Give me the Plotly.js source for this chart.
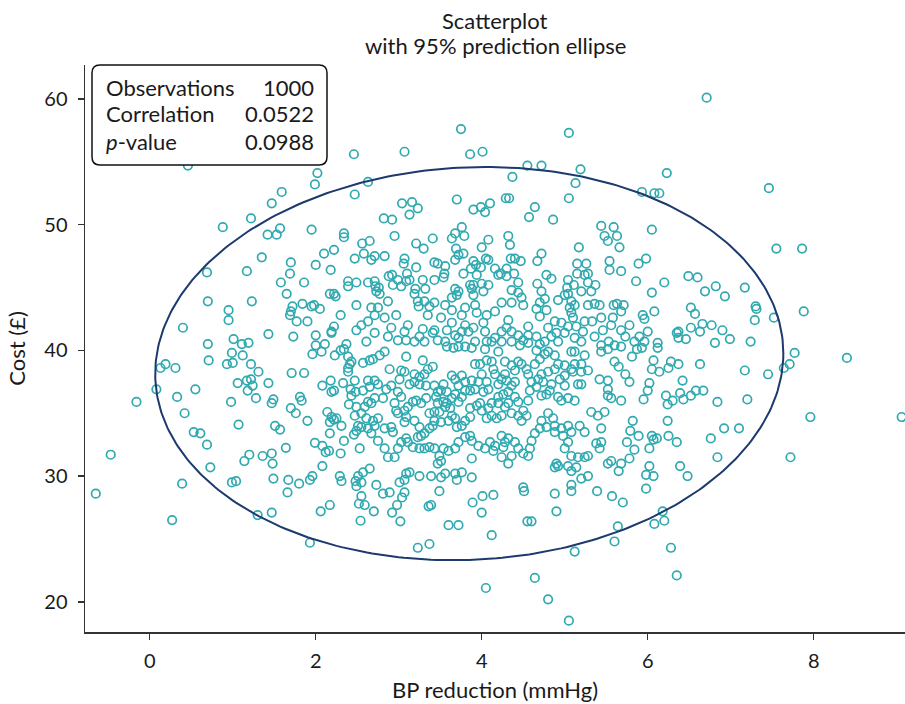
<!DOCTYPE html>
<html>
<head>
<meta charset="utf-8">
<script src="https://cdn.plot.ly/plotly-3.0.1.min.js"></script>
<style>html,body{margin:0;padding:0;background:#fff;}#chart{width:905px;height:704px;}</style>
</head>
<body>
<div id="chart"></div>
<script>
// BP reduction (mmHg) for each observation
const bpReduction = [
0.46,2.46,2.02,1.99,1.59,1.47,2.47,3.75,3.07,3.86,
4.01,5.05,4.55,4.72,5.19,4.37,5.13,5.05,2.63,3.04,
3.16,3.70,4.10,4.29,4.33,4.64,6.71,6.23,7.46,5.93,
6.08,6.14,1.22,0.88,1.42,1.57,1.53,1.95,2.34,2.34,
2.22,2.10,1.35,1.70,1.69,2.00,2.18,0.69,1.17,1.58,
1.86,2.39,2.39,2.49,2.47,1.65,2.17,2.22,2.24,0.70,
1.23,0.95,0.95,1.72,1.70,1.69,1.84,1.98,1.95,2.05,
1.77,1.90,2.30,2.49,0.40,1.43,1.73,2.22,2.19,2.19,
2.00,2.49,0.70,1.01,1.11,1.19,2.00,2.11,2.37,2.34,
2.30,6.05,7.55,7.86,5.89,5.98,5.86,6.20,6.49,6.60,
6.05,6.69,6.82,6.93,7.17,6.52,6.57,7.30,7.31,7.29,
7.52,7.88,6.08,5.94,5.96,5.78,6.66,6.77,6.52,6.63,
6.90,6.35,6.37,6.37,6.46,6.99,6.81,7.24,6.00,5.90,
5.84,5.96,6.12,6.12,5.93,5.87,7.77,8.40,7.17,7.45,
7.64,7.71,6.63,6.07,6.28,6.37,6.05,6.14,6.25,6.42,
6.02,6.00,5.78,6.22,6.30,6.24,6.39,6.43,6.52,6.58,
6.67,5.95,6.84,7.20,7.96,9.06,5.82,6.24,6.92,7.10,
6.76,5.89,6.05,6.11,6.07,6.25,6.35,5.84,6.02,5.78,
6.84,7.72,6.02,5.98,6.07,6.39,6.48,5.98,6.18,6.08,
6.20,6.28,6.35,2.55,2.52,2.59,2.70,2.54,2.81,2.89,
3.07,3.04,2.98,2.92,3.02,3.36,3.39,3.49,3.60,3.72,
3.23,3.37,3.89,4.01,4.14,4.00,4.12,4.51,4.55,4.60,
4.88,4.90,5.08,5.39,5.57,5.70,5.64,5.60,5.12,4.64,
4.05,4.80,5.05,-0.65,0.27,1.30,1.47,1.66,1.93,2.06,
2.17,0.13,0.19,0.31,0.71,0.08,-0.16,0.55,0.33,0.42,
0.53,0.61,0.69,-0.47,0.73,0.39,0.99,1.04,0.98,1.07,
0.93,1.00,0.99,1.12,1.22,1.31,1.06,1.17,1.22,1.24,
1.18,1.28,1.43,1.47,1.49,1.71,1.86,1.70,1.76,1.81,
1.83,1.90,1.51,1.57,1.64,1.20,1.14,1.36,1.47,1.48,
1.49,1.67,1.80,1.93,1.96,1.99,2.08,2.12,2.16,2.30,
2.08,2.29,2.31,2.48,2.49,2.17,2.34,2.46,2.49,2.51,
2.14,2.19,2.22,2.25,2.17,2.31,2.08,2.18,2.19,2.22,
2.33,2.42,2.43,2.40,2.48,1.96,2.07,2.23,2.39,2.41,
2.39,2.39,2.43,3.23,3.13,3.90,3.99,4.04,4.57,4.86,
2.82,2.92,2.95,5.44,5.59,5.48,5.52,5.63,5.66,5.17,
3.76,3.68,3.64,3.79,3.69,3.72,3.78,3.41,3.21,3.30,
4.08,4.00,4.32,4.34,2.56,2.65,2.58,2.67,2.71,2.83,
3.07,3.06,3.21,3.10,3.43,3.47,3.56,3.68,3.90,3.93,
3.99,3.87,4.05,4.08,4.16,4.23,4.20,4.30,4.35,4.40,
4.47,4.30,4.39,4.72,4.67,4.78,4.84,5.15,5.26,5.54,
5.54,5.68,5.04,5.15,5.24,5.28,5.28,5.37,5.11,5.03,
5.00,4.67,4.72,4.70,4.76,4.78,4.66,4.70,5.04,5.20,
5.32,5.08,5.12,5.06,4.92,5.28,5.36,5.42,5.59,5.63,
5.68,5.71,5.58,5.44,5.33,5.24,5.08,5.10,4.96,4.88,
5.04,5.14,5.00,4.90,4.80,4.84,4.92,4.76,4.66,4.56,
4.70,5.22,5.12,5.20,5.36,5.46,5.56,5.68,5.73,5.53,
5.60,5.44,5.68,5.12,4.80,2.63,2.71,2.72,2.76,2.73,
2.77,2.88,2.92,2.93,3.03,2.99,3.09,3.13,3.20,3.32,
3.29,3.43,3.54,3.55,3.78,3.94,4.00,3.86,3.90,3.88,
3.72,3.68,3.64,3.70,3.90,4.02,4.08,4.36,4.44,4.44,
4.48,4.50,4.36,4.24,4.16,4.06,3.94,3.92,3.80,3.76,
3.64,3.56,3.43,3.31,3.19,3.23,3.24,3.37,3.35,3.51,
3.43,3.29,3.25,3.19,3.07,3.11,2.97,2.87,2.75,2.71,
2.63,2.55,2.61,2.83,2.91,2.87,2.71,2.67,2.99,3.09,
3.31,3.41,3.47,3.58,3.64,3.68,3.72,3.76,3.80,3.84,
3.90,4.02,4.04,4.06,4.16,4.24,4.32,4.30,4.36,4.44,
4.50,4.36,4.24,3.92,3.56,3.58,3.66,3.72,3.80,3.88,
4.04,4.12,4.46,4.56,4.56,2.57,2.65,2.69,2.77,2.83,
3.09,3.29,3.35,3.41,3.31,3.25,3.19,3.07,3.01,3.03,
2.89,2.91,2.85,2.75,2.71,2.63,2.65,2.57,2.47,2.99,
3.03,3.13,3.19,3.25,3.33,3.43,3.47,3.45,3.54,3.51,
3.58,3.64,3.68,3.76,3.80,3.72,3.88,3.96,4.00,4.06,
4.08,4.02,3.92,3.86,3.80,3.68,3.64,3.58,3.54,3.47,
3.72,3.76,3.92,3.98,4.06,4.12,4.20,4.28,4.36,4.40,
4.44,4.48,4.54,4.56,4.40,4.36,4.30,4.24,4.20,4.16,
4.14,4.28,4.58,4.60,4.68,4.74,4.66,4.72,4.78,4.82,
4.84,4.72,4.80,4.88,4.92,5.00,5.08,5.12,5.20,5.28,
5.20,5.10,5.00,4.94,5.00,4.92,4.96,5.04,5.12,5.20,
5.16,5.24,5.08,4.88,4.76,4.70,4.66,4.64,5.42,5.52,
5.52,5.52,5.56,5.68,5.73,5.60,5.65,5.44,5.52,5.81,
5.79,5.75,5.68,5.56,5.65,5.52,5.42,5.44,5.40,5.48,
5.32,5.44,5.38,5.28,5.24,5.16,5.08,5.04,4.92,4.88,
4.90,5.00,5.04,4.98,4.88,4.96,5.08,5.24,5.18,5.04,
4.88,4.86,4.80,4.72,4.78,4.70,4.64,4.60,4.58,4.56,
4.50,4.44,4.40,4.32,4.28,4.24,4.26,4.36,4.32,4.24,
4.14,4.16,4.10,4.04,3.96,3.88,3.86,3.80,3.72,3.68,
3.60,3.54,3.49,3.51,3.47,3.43,3.37,3.31,3.25,3.17,
3.11,3.09,3.03,2.99,2.95,2.87,2.83,2.75,2.67,2.63,
2.55,2.53,2.65,2.57,2.51,2.55,2.73,3.01,3.07,3.09,
3.13,3.25,3.39,3.51,3.56,3.68,3.70,3.76,3.88,3.88,
4.50,5.08,5.20,5.28,5.08,5.14,2.69,2.75,2.71,2.83,
2.91,2.93,3.07,3.09,3.19,3.25,3.31,3.27,3.23,3.37,
3.43,3.41,3.51,3.60,3.64,3.68,3.70,3.76,3.80,3.86,
3.86,3.94,3.98,4.00,4.08,4.12,4.20,4.28,4.32,4.24,
4.18,4.12,4.06,4.36,4.44,4.48,4.50,4.54,4.56,4.44,
4.40,4.32,4.26,4.20,2.63,2.59,2.67,2.71,2.81,2.95,
2.97,2.99,3.07,3.11,3.17,3.21,3.27,3.33,3.37,3.43,
3.49,3.56,3.62,2.55,2.61,2.47,2.49
];

// Cost (£) for each observation
const cost = [
54.7,55.6,54.1,53.2,52.6,51.7,52.4,57.6,55.8,55.6,
55.8,57.3,54.7,54.7,54.4,53.8,53.3,52.1,53.4,51.7,
51.8,52.0,51.7,52.1,52.1,51.4,60.1,54.1,52.9,52.6,
52.5,52.5,50.5,49.8,49.2,49.7,49.2,49.6,49.3,49.0,
48.0,47.7,47.4,47.0,46.1,46.8,46.4,46.2,46.3,45.4,
45.4,45.5,45.1,45.4,47.3,44.5,44.5,44.5,44.3,43.9,
43.9,43.2,42.4,43.5,43.1,42.8,43.7,43.6,43.5,43.3,
42.3,42.3,42.8,43.6,41.8,41.3,41.1,41.9,41.5,41.4,
41.2,41.6,40.5,40.9,40.5,40.6,40.4,40.5,40.5,40.1,
40.0,49.6,48.1,48.1,46.9,47.3,45.5,45.4,45.9,45.8,
44.6,44.7,45.1,44.3,45.0,43.4,42.9,43.5,43.3,42.4,
42.6,43.1,43.1,42.8,42.5,42.0,42.1,42.0,41.8,41.5,
41.6,41.4,41.5,41.0,40.9,40.9,40.6,40.7,41.5,41.1,
40.7,40.7,40.6,40.2,40.2,40.1,39.8,39.4,38.4,38.1,
38.6,38.9,38.9,39.2,39.1,38.9,38.5,38.3,38.6,37.6,
37.4,36.8,37.5,36.4,36.0,35.7,36.6,36.1,36.4,36.8,
36.8,36.1,35.9,36.1,34.7,34.7,34.4,34.4,33.8,33.8,
33.0,33.2,33.2,33.0,32.9,33.2,32.7,32.1,32.2,31.4,
31.5,31.5,30.8,30.1,30.0,30.8,30.0,29.0,27.2,26.2,
26.45,24.3,22.1,28.4,27.8,27.7,27.2,26.45,28.6,28.7,
28.7,28.3,27.7,27.1,26.4,27.6,27.7,28.8,26.1,26.1,
24.3,24.6,27.9,28.4,28.5,27.1,25.3,28.8,26.4,26.4,
28.6,27.2,28.8,28.8,28.4,27.9,26.0,24.8,24.0,21.9,
21.1,20.2,18.5,28.6,26.5,26.9,27.1,28.7,24.7,27.2,
27.7,38.6,38.9,38.6,39.2,36.9,35.9,36.9,36.3,35.0,
33.5,33.4,32.5,31.7,30.7,29.4,29.5,29.6,35.9,34.1,
38.9,39.0,39.8,39.6,38.9,38.3,37.4,37.6,37.7,37.2,
36.8,36.2,37.4,35.8,36.1,38.2,38.2,35.4,35.0,36.3,
36.0,34.4,34.0,33.7,32.25,31.7,31.2,31.6,31.8,31.0,
29.8,29.7,29.4,29.7,30.0,32.65,32.4,31.9,32.0,31.8,
30.8,30.0,29.6,29.6,29.2,33.4,32.8,33.3,33.6,34.0,
35.1,34.7,34.5,34.6,34.3,34.0,37.2,37.6,36.7,36.8,
37.4,36.9,36.4,35.7,36.7,39.7,39.9,39.6,39.5,38.9,
38.6,38.3,39.1,51.3,50.8,51.2,51.4,51.0,50.6,50.4,
50.5,50.4,49.1,49.9,49.8,49.1,48.7,49.1,48.2,48.2,
49.8,49.3,48.9,49.1,48.1,47.6,47.7,48.9,48.5,48.1,
48.8,48.2,49.1,48.4,48.5,48.7,47.7,47.2,47.5,47.5,
47.3,46.9,46.6,46.1,47.0,46.9,46.7,47.2,47.1,46.8,
46.6,46.5,47.3,47.2,46.5,46.1,46.0,46.5,47.3,47.3,
47.1,45.9,46.1,47.7,47.1,46.0,45.7,46.9,46.9,47.1,
46.4,46.3,45.6,46.1,46.0,46.1,45.4,45.2,45.2,45.0,
44.4,45.3,44.7,43.8,44.1,43.2,43.3,42.7,44.5,44.7,
44.7,43.9,43.6,43.4,44.0,43.6,43.7,43.6,43.6,43.7,
43.1,43.6,42.6,42.6,42.3,42.3,43.0,42.6,42.2,42.3,
41.9,41.9,41.4,41.4,41.8,41.1,40.7,40.7,41.1,40.6,
40.5,41.5,41.0,40.7,41.1,41.6,42.0,41.6,41.1,40.7,
40.4,40.4,40.3,39.9,39.9,45.4,45.5,45.1,45.0,44.7,
44.5,45.9,46.0,45.2,45.1,45.6,45.5,45.6,44.9,44.9,
45.6,45.6,45.8,46.1,46.1,46.0,45.3,45.2,45.2,44.9,
44.7,44.9,44.2,44.4,44.4,44.7,45.2,44.8,45.4,44.6,
44.2,43.6,43.8,43.8,43.1,42.8,43.0,43.6,43.4,42.8,
43.2,43.6,43.8,43.9,44.5,43.9,43.5,43.5,42.8,42.6,
41.6,41.7,41.1,40.7,41.5,42.0,42.8,43.9,43.4,42.8,
42.3,42.0,40.7,42.6,41.8,41.1,41.4,43.4,40.8,40.8,
40.7,41.4,40.8,41.6,42.2,41.2,41.0,41.5,42.0,41.5,
41.8,42.2,41.5,40.7,41.0,41.5,42.4,41.8,41.5,41.2,
40.8,40.7,40.7,40.7,40.7,40.3,40.2,40.3,40.3,40.2,
40.1,40.7,40.4,41.2,41.9,39.0,39.2,39.3,39.6,39.9,
39.5,39.2,38.5,38.7,38.1,37.9,38.1,38.3,37.7,38.4,
38.5,37.2,36.9,37.3,37.6,37.6,37.1,36.8,37.6,36.7,
36.3,37.3,37.5,37.3,37.2,37.2,36.7,36.3,37.3,36.8,
36.7,38.0,37.7,38.0,37.5,37.2,37.6,37.5,38.1,37.5,
36.9,36.7,36.9,36.8,36.8,36.5,36.2,35.8,35.9,35.8,
35.9,36.3,38.9,38.9,39.2,39.1,39.9,39.1,38.8,38.4,
39.1,38.9,38.5,38.1,37.5,37.2,37.6,37.7,37.3,38.1,
38.5,38.1,36.8,37.5,37.7,37.5,37.1,36.4,36.5,36.8,
37.3,38.1,38.3,38.5,38.9,38.8,38.5,38.9,38.9,38.4,
38.3,38.3,38.0,37.7,37.2,36.3,36.0,36.2,36.0,37.3,
37.3,39.6,39.9,39.6,39.7,39.3,40.0,38.9,37.7,37.6,
36.9,36.4,36.2,36.0,38.1,39.1,38.7,39.9,40.1,39.5,
33.6,32.7,31.0,31.2,30.4,31.0,32.2,33.8,34.8,35.1,
35.1,32.7,32.6,31.6,31.5,31.5,31.6,30.8,30.8,30.7,
31.0,32.2,32.7,33.2,33.5,33.8,33.5,33.5,34.0,34.0,
34.0,34.6,35.0,34.4,33.9,33.8,33.4,32.8,32.2,31.6,
31.8,32.2,32.7,33.0,32.7,33.2,32.3,31.6,31.0,31.5,
32.0,32.4,32.7,32.2,32.4,32.8,33.2,33.1,32.7,32.2,
32.0,32.2,31.6,31.2,31.0,32.2,32.3,32.2,32.2,32.3,
32.7,33.0,32.7,32.2,31.5,31.5,32.2,32.8,33.4,33.8,
33.9,32.2,30.6,30.3,30.0,29.5,29.3,29.5,29.7,30.2,
30.3,30.0,30.0,29.9,30.2,30.2,29.7,30.3,29.9,31.4,
29.1,29.3,29.8,30.0,30.4,30.7,34.4,34.6,34.0,33.8,
33.9,33.5,34.3,34.7,34.4,33.9,33.4,33.2,33.1,33.8,
34.4,34.0,34.3,34.4,34.8,34.6,33.9,34.0,34.4,34.7,
35.4,35.6,35.8,35.2,35.4,35.8,35.8,35.5,35.8,34.8,
34.6,34.8,34.6,35.0,34.8,34.4,35.2,34.8,36.0,35.9,
36.3,36.7,36.5,36.3,35.9,35.5,35.8,36.2,36.2,35.8,
35.2,35.0,35.2,35.5,35.9,36.0,35.8,36.2,35.0,35.1,
35.1,35.5,35.4,35.0,34.6,34.8,35.5
];

// Summary statistics shown in the box
const statLabels = ['Observations', 'Correlation', '<i>p</i>-value'];
const statValues = ['1000', '0.0522', '0.0988'];

// Chart title lines
const titleLines = ['Scatterplot', 'with 95% prediction ellipse'];

// Bivariate normal parameters for the 95% prediction ellipse
const meanBP = 3.85, meanCost = 38.95;
const sdBP = 1.546, sdCost = 6.39;
const correlation = 0.0522;
const chi2_95 = 5.991;

const xTicks = [0, 2, 4, 6, 8];
const yTicks = [20, 30, 40, 50, 60];

if (bpReduction.length !== cost.length) console.error('length mismatch', bpReduction.length, cost.length);

// ellipse
const ex = [], ey = [];
const c = Math.sqrt(chi2_95);
for (let i = 0; i <= 360; i++) {
  const t = i * Math.PI / 180;
  ex.push(meanBP + c * sdBP * Math.cos(t));
  ey.push(meanCost + c * sdCost * (correlation * Math.cos(t) + Math.sqrt(1 - correlation * correlation) * Math.sin(t)));
}

const teal = '#30a9b0';
const navy = '#1c3a6e';
const txt = '#1a1a1a';

const traces = [
  {
    type: 'scatter', mode: 'markers', x: bpReduction, y: cost,
    marker: { symbol: 'circle-open', size: 8.5, color: teal, line: { width: 1.7, color: teal } },
    hoverinfo: 'x+y'
  },
  {
    type: 'scatter', mode: 'lines', x: ex, y: ey,
    line: { color: navy, width: 2 }, hoverinfo: 'skip'
  }
];

const L = 85, R = 905, T = 65, B = 632;
const pw = R - L, ph = B - T;
const px = v => (v - L) / pw;
const py = v => 1 - (v - T) / ph;

const bx0 = px(92), bx1 = px(327), by1 = py(65), by0 = py(165);
const rx = 8 / pw, ry = 8 / ph;
const boxPath = `M ${bx0 + rx},${by1} L ${bx1 - rx},${by1} Q ${bx1},${by1} ${bx1},${by1 - ry} L ${bx1},${by0 + ry} Q ${bx1},${by0} ${bx1 - rx},${by0} L ${bx0 + rx},${by0} Q ${bx0},${by0} ${bx0},${by0 + ry} L ${bx0},${by1 - ry} Q ${bx0},${by1} ${bx0 + rx},${by1} Z`;

const rowsY = [87, 114, 141];
const annotations = [];
statLabels.forEach((lab, i) => {
  annotations.push({ xref: 'paper', yref: 'paper', x: px(104), y: py(rowsY[i]), xanchor: 'left', yanchor: 'middle', text: lab, showarrow: false, font: { size: 22, color: txt } });
  annotations.push({ xref: 'paper', yref: 'paper', x: px(316), y: py(rowsY[i]), xanchor: 'right', yanchor: 'middle', text: statValues[i], showarrow: false, font: { size: 22, color: txt } });
});
const titleY = [20, 46];
titleLines.forEach((t, i) => {
  annotations.push({ xref: 'paper', yref: 'paper', x: 0.5, y: py(titleY[i]), xanchor: 'center', yanchor: 'middle', text: t, showarrow: false, font: { size: 22, color: txt } });
});

const layout = {
  width: 905, height: 704,
  margin: { l: L, r: 905 - R, t: T, b: 704 - B },
  paper_bgcolor: '#ffffff', plot_bgcolor: '#ffffff',
  font: { family: 'Lato, "Open Sans", sans-serif', color: txt, size: 20 },
  showlegend: false,
  xaxis: {
    range: [-0.78, 9.1], tickvals: xTicks, ticktext: xTicks.map(String),
    showline: true, linecolor: '#333', linewidth: 1.5, mirror: false,
    ticks: 'outside', ticklen: 6, tickwidth: 1.5, tickcolor: '#333',
    ticklabelstandoff: 4,
    showgrid: false, zeroline: false, automargin: false,
    tickfont: { size: 20, color: txt },
    title: { text: 'BP reduction (mmHg)', font: { size: 22, color: txt }, standoff: 12 }
  },
  yaxis: {
    range: [17.6, 62.7], tickvals: yTicks, ticktext: yTicks.map(String),
    showline: true, linecolor: '#333', linewidth: 1.5,
    ticks: 'outside', ticklen: 6, tickwidth: 1.5, tickcolor: '#333',
    ticklabelstandoff: 6,
    showgrid: false, zeroline: false, automargin: false,
    tickfont: { size: 20, color: txt },
    title: { text: 'Cost (£)', font: { size: 22, color: txt }, standoff: 12 }
  },
  shapes: [
    { type: 'path', xref: 'paper', yref: 'paper', path: boxPath, line: { color: '#111', width: 1.5 }, fillcolor: '#ffffff', layer: 'above' }
  ],
  annotations: annotations
};

Plotly.newPlot('chart', traces, layout, { displayModeBar: false, staticPlot: true });
</script>
</body>
</html>
